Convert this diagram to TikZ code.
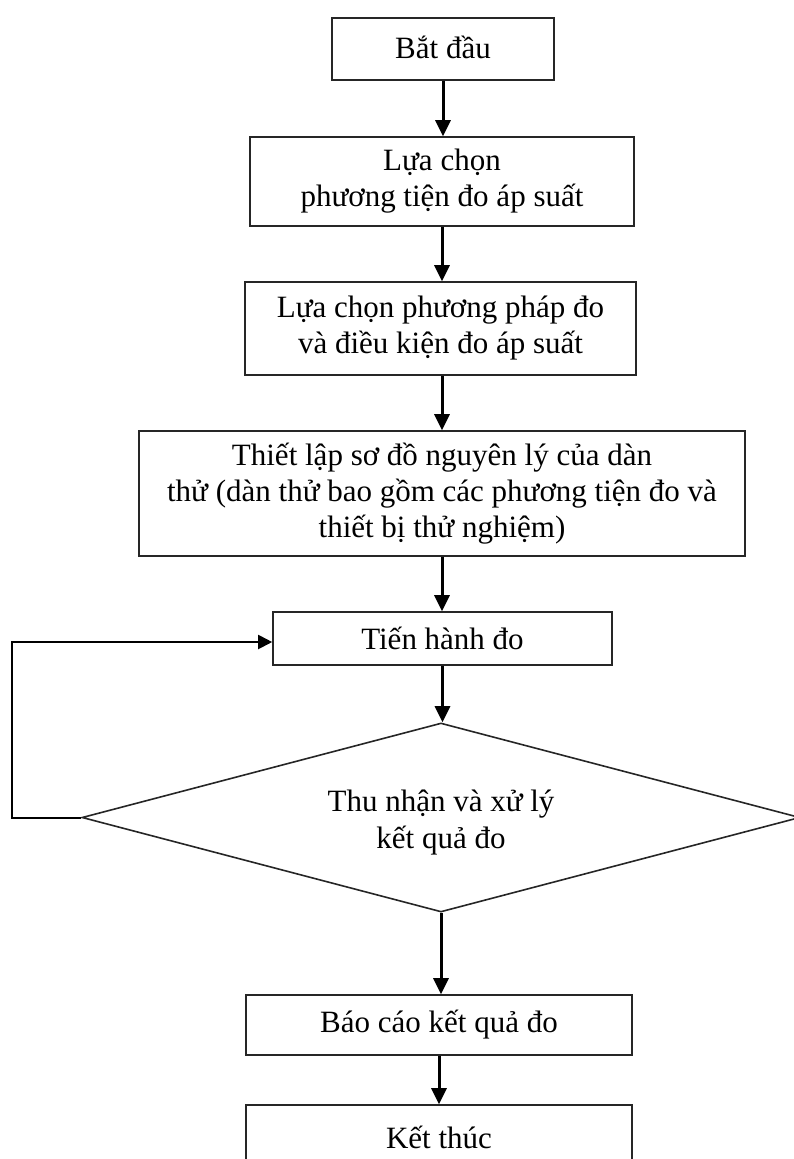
\documentclass[tikz,border=0pt]{standalone}
\usepackage{fontspec}
\setmainfont{Liberation Serif}
\usetikzlibrary{shapes.geometric,arrows.meta}
\tikzset{
  box/.style={draw=black!85, line width=1.6pt, rectangle, inner sep=0pt, align=center,
    font=\fontsize{31}{36}\selectfont},
  dia/.style={draw=black!85, line width=1.6pt, diamond, aspect=3.75, inner sep=0pt, align=center,
    font=\fontsize{31}{37}\selectfont},
  flow/.style={line width=3pt, -{Triangle[length=16pt,width=15pt]}},
  back/.style={line width=2pt, -{Triangle[length=14pt,width=14pt]}}
}
\begin{document}
\begin{tikzpicture}[x=1pt,y=-1pt]
\useasboundingbox (0,0) rectangle (793,1159);
\node[box, minimum width=222pt, minimum height=62pt] (b1) at (443,49) {\raisebox{4pt}{Bắt đầu}};
\node[box, minimum width=384pt, minimum height=89pt] (b2) at (442,181.5) {Lựa chọn\\phương tiện đo áp suất};
\node[box, minimum width=391pt, minimum height=93pt] (b3) at (440.5,328.5) {Lựa chọn phương pháp đo\\và điều kiện đo áp suất};
\node[box, minimum width=606pt, minimum height=125pt] (b4) at (442,493.5) {Thiết lập sơ đồ nguyên lý của dàn\\thử (dàn thử bao gồm các phương tiện đo và\\thiết bị thử nghiệm)};
\node[box, minimum width=339pt, minimum height=53pt] (b5) at (442.5,638.5) {Tiến hành đo};
\node[dia, minimum width=718pt, minimum height=189pt] (d) at (441,817.5) {};
\node[align=center, inner sep=0pt, font=\fontsize{31}{37}\selectfont] (dt) at (441,823) {Thu nhận và xử lý\\kết quả đo};
\node[box, minimum width=386pt, minimum height=60pt] (b7) at (439,1025) {Báo cáo kết quả đo};
\node[box, minimum width=386pt, minimum height=65pt] (b8) at (439,1137.5) {Kết thúc};
\draw[flow] (b1.south) -- (b1.south |- b2.north);
\draw[flow] (b2.south) -- (b2.south |- b3.north);
\draw[flow] (b3.south -| b4.north) -- (b4.north);
\draw[flow] (b4.south) -- (b4.south |- b5.north);
\draw[flow] (b5.south) -- (b5.south |- d.north);
\draw[flow] (d.south) -- (d.south |- b7.north);
\draw[flow] (b7.south) -- (b7.south |- b8.north);
\draw[back] (d.west) -- ++(-69,0) |- ([yshift=-3.5pt]b5.west);
\end{tikzpicture}
\end{document}
